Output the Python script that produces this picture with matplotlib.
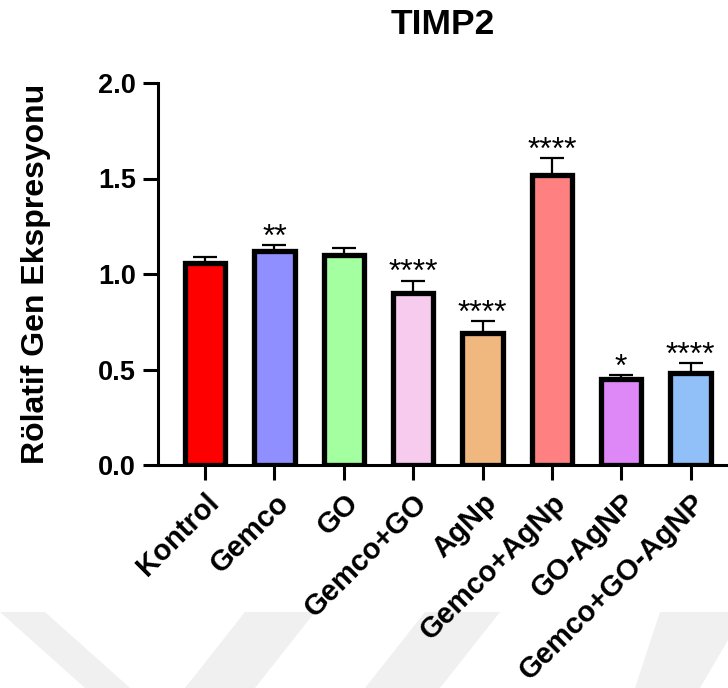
import matplotlib
matplotlib.use("Agg")
import matplotlib.pyplot as plt
from matplotlib.patches import Polygon
import numpy as np

# Relative TIMP2 expression per treatment group
groups = ["Kontrol", "Gemco", "GO", "Gemco+GO", "AgNp",
          "Gemco+AgNp", "GO-AgNP", "Gemco+GO-AgNP"]
means = [1.06, 1.12, 1.10, 0.90, 0.69, 1.52, 0.45, 0.48]
sems = [0.03, 0.03, 0.035, 0.065, 0.065, 0.085, 0.02, 0.055]
stars = ["", "**", "", "****", "****", "****", "*", "****"]
colors = ["#FF0000", "#8F8FFF", "#A3FFA0", "#F7CBEE",
          "#F0B77E", "#FF8080", "#DD88F6", "#91BFF8"]
yticks = [0.0, 0.5, 1.0, 1.5, 2.0]

W, H, DPI = 728, 688, 100
fig = plt.figure(figsize=(W / DPI, H / DPI), dpi=DPI)
plt.rcParams["font.family"] = ["Liberation Sans", "DejaVu Sans"]

# faint background chevrons, kept behind everything else
bands = [
    [(0, 612), (45, 612), (130, 688), (85, 688)],
    [(245, 612), (315, 612), (255, 688), (185, 688)],
    [(425, 612), (500, 612), (440, 688), (365, 688)],
    [(660, 612), (728, 612), (728, 640), (700, 688), (635, 688)],
]
for pts in bands:
    poly = Polygon([(x / W, 1 - y / H) for x, y in pts], closed=True,
                   transform=fig.transFigure, facecolor="#F0F0F0",
                   edgecolor="none", zorder=-5)
    fig.patches.append(poly)

ax = fig.add_axes([158 / W, 1 - 465 / H, 1 - 158 / W, (465 - 83) / H])
ax.set_facecolor("none")
ax.set_zorder(2)

x = np.arange(len(groups))
lw_px = 5.3
ax.errorbar(x, means, yerr=[np.zeros(len(sems)), sems], fmt="none",
            ecolor="black", elinewidth=1.6, capsize=8.3, capthick=1.6,
            zorder=2)
ax.bar(x, means, width=0.58, color=colors, edgecolor="black",
       linewidth=lw_px * 72 / DPI, zorder=3)

for xi, m, s, st in zip(x, means, sems, stars):
    if st:
        ax.annotate(st, (xi, m + s), xytext=(0, -0.5),
                    textcoords="offset points", ha="center", va="baseline",
                    fontsize=23, color="black")

ax.set_xlim(-0.68, 7.54)
ax.set_ylim(0, 2.0)
ax.set_yticks(yticks)
ax.set_yticklabels([f"{t:.1f}" for t in yticks], fontsize=19.5,
                   fontweight="bold")
ax.set_xticks(x)
ax.set_xticklabels(groups, rotation=45, ha="right", rotation_mode="anchor",
                   fontsize=21, fontweight="bold")
ax.tick_params(axis="both", direction="out", length=10.8, width=2.2, pad=5)
ax.tick_params(axis="x", pad=6)

for side in ["top", "right"]:
    ax.spines[side].set_visible(False)
for side in ["left", "bottom"]:
    ax.spines[side].set_linewidth(2.2)

ax.set_ylabel("Rölatif Gen Ekspresyonu", fontsize=23, fontweight="bold",
              labelpad=34)
ax.set_title("TIMP2", fontsize=25.5, fontweight="bold", pad=35.5)

fig.savefig("out.png", dpi=DPI)
